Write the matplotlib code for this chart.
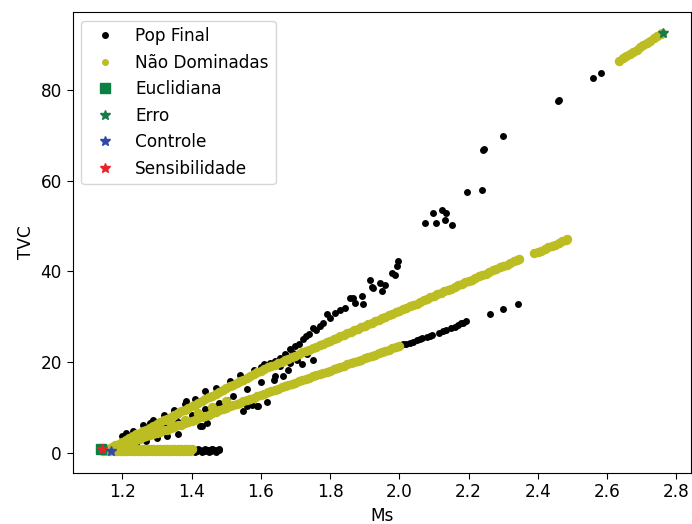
import matplotlib
matplotlib.use("Agg")
import matplotlib.pyplot as plt

# Populacao final (todos os individuos)
pop_ms = [
    1.390, 1.395, 1.400, 1.405, 1.410, 1.415, 1.420, 1.425, 1.430, 1.435,
    1.440, 1.445, 1.450, 1.455, 1.460, 1.465, 1.470, 1.475, 1.480,
    1.400, 1.410, 1.420, 1.430, 1.440, 1.450, 1.460, 1.470, 1.480,
    1.214, 1.229, 1.253, 1.21, 1.28, 1.35, 1.24, 1.27, 1.30, 1.33, 1.36,
    1.20, 1.23, 1.26, 1.29, 1.32, 1.35, 1.38, 1.41, 1.47,
    1.301, 1.358, 1.368, 1.416, 1.425, 1.430, 1.445, 1.474, 1.502, 1.569,
    1.32, 1.36, 1.40, 1.44, 1.48, 1.52, 1.56, 1.60, 1.64, 1.68, 1.72, 1.75,
    1.550, 1.560, 1.574, 1.589, 1.593, 1.618,
    1.385, 1.440, 1.512, 1.541, 1.579, 1.600, 1.610, 1.627, 1.640, 1.656,
    1.670, 1.685, 1.700, 1.710, 1.723, 1.730, 1.740, 1.752, 1.760, 1.770,
    1.780, 1.790, 1.800, 1.814, 1.830, 1.843, 1.857, 1.867, 1.872, 1.891,
    1.896, 1.915, 1.920, 1.925, 1.944, 1.949, 1.960, 1.978, 1.987, 1.992,
    1.997,
    1.637, 1.656, 1.665, 1.675, 1.685, 1.694, 1.704, 1.733,
    2.005, 2.011, 2.020, 2.030, 2.040, 2.050, 2.059, 2.065, 2.080, 2.088,
    2.095, 2.115, 2.126, 2.135, 2.150, 2.160, 2.170, 2.179, 2.185, 2.194,
    2.261, 2.299, 2.342,
    2.073, 2.097, 2.105, 2.123, 2.131, 2.136, 2.153,
    2.195, 2.238, 2.243, 2.246, 2.299, 2.459, 2.462, 2.560, 2.581,
]
pop_tvc = [
    0.5, 0.7, 0.4, 0.6, 0.5, 0.3, 0.6, 0.5, 0.4, 0.6,
    0.3, 0.6, 0.5, 0.4, 0.7, 0.5, 0.4, 0.5, 0.5,
    0.9, 0.2, 0.9, 0.2, 0.9, 0.2, 0.9, 0.2, 0.8,
    3.7, 2.9, 3.7, 4.3, 6.6, 9.2, 2.0, 2.6, 3.2, 3.6, 4.2,
    3.6, 4.8, 6.1, 7.2, 8.4, 9.5, 10.7, 11.9, 14.3,
    6.6, 8.4, 5.9, 8.8, 5.9, 5.9, 6.6, 10.3, 11.7, 11.7,
    5.6, 6.8, 8.3, 9.6, 11.0, 12.6, 14.0, 15.5, 16.9, 18.3, 19.5, 20.5,
    9.2, 10.3, 10.6, 10.3, 10.3, 11.1,
    11.4, 13.6, 15.8, 17.1, 18.3, 19.0, 19.5, 19.8, 20.3, 20.9,
    21.8, 22.8, 23.5, 24.0, 25.0, 25.8, 26.2, 27.5, 27.0, 28.0,
    28.6, 30.5, 29.6, 30.8, 31.5, 31.9, 34.1, 34.1, 33.0, 34.5,
    32.7, 38.2, 36.6, 36.3, 37.4, 35.6, 37.0, 39.6, 39.3, 41.1,
    42.2,
    16.1, 19.1, 16.9, 21.3, 19.8, 22.0, 20.5, 21.7,
    23.7, 23.9, 24.0, 24.2, 24.5, 24.8, 25.1, 25.2, 25.5, 25.7,
    25.9, 26.5, 26.8, 27.0, 27.4, 27.7, 28.1, 28.5, 28.7, 29.0,
    30.5, 31.6, 32.9,
    50.7, 52.9, 50.7, 53.6, 51.4, 52.9, 50.3,
    57.5, 58.0, 66.8, 67.0, 69.9, 77.7, 77.9, 82.6, 83.7,
]

# Nao dominadas - faixa de baixo (TVC perto de zero), duas fileiras
nd_base_ms = [1.140, 1.150, 1.160, 1.170, 1.180, 1.190, 1.200, 1.210, 1.220,
              1.230, 1.240, 1.250, 1.260, 1.270, 1.280, 1.290, 1.300, 1.310,
              1.320, 1.330, 1.340, 1.350, 1.360, 1.370, 1.380, 1.390, 1.400,
              1.145, 1.155, 1.165, 1.175, 1.185, 1.195, 1.205, 1.215, 1.225,
              1.235, 1.245, 1.255, 1.265, 1.275, 1.285, 1.295, 1.305, 1.315,
              1.325, 1.335, 1.345, 1.355, 1.365, 1.375, 1.385, 1.395]
nd_base_tvc = [0.85] * 27 + [0.35] * 26

# Nao dominadas - ramo de baixo
nd_low_ms = [1.16, 1.17, 1.18, 1.19, 1.20, 1.21, 1.22, 1.23, 1.24, 1.25,
             1.26, 1.27, 1.28, 1.29, 1.30, 1.31, 1.32, 1.33, 1.34, 1.35,
             1.36, 1.37, 1.38, 1.39, 1.40, 1.41, 1.42, 1.43, 1.44, 1.45,
             1.46, 1.47, 1.48, 1.49, 1.50, 1.51, 1.52, 1.53, 1.54, 1.55,
             1.56, 1.57, 1.58, 1.59, 1.60, 1.61, 1.62, 1.63, 1.64, 1.65,
             1.66, 1.67, 1.68, 1.69, 1.70, 1.71, 1.72, 1.73, 1.74, 1.75,
             1.76, 1.77, 1.78, 1.79, 1.80, 1.81, 1.82, 1.83, 1.84, 1.85,
             1.86, 1.87, 1.88, 1.89, 1.90, 1.91, 1.92, 1.93, 1.94, 1.95,
             1.96, 1.97, 1.98, 1.99, 2.00]
nd_low_tvc = [0.9, 1.1, 1.3, 1.6, 1.8, 2.1, 2.3, 2.6, 2.8, 3.1,
              3.4, 3.6, 3.9, 4.1, 4.4, 4.6, 4.9, 5.1, 5.4, 5.7,
              6.0, 6.2, 6.5, 6.7, 7.0, 7.3, 7.6, 7.8, 8.1, 8.4,
              8.7, 9.0, 9.3, 9.6, 9.9, 10.2, 10.5, 10.7, 11.0, 11.3,
              11.6, 11.8, 12.1, 12.4, 12.7, 13.0, 13.3, 13.5, 13.8, 14.1,
              14.4, 14.6, 14.9, 15.1, 15.4, 15.7, 16.0, 16.2, 16.5, 16.8,
              17.1, 17.3, 17.6, 17.8, 18.1, 18.4, 18.7, 18.9, 19.2, 19.5,
              19.8, 20.0, 20.3, 20.5, 20.8, 21.1, 21.4, 21.6, 21.9, 22.2,
              22.5, 22.7, 23.0, 23.2, 23.5]

# Nao dominadas - pontos soltos entre os dois ramos
nd_mid_ms = [1.26, 1.30, 1.34, 1.38, 1.42, 1.46, 1.50]
nd_mid_tvc = [3.6, 5.2, 6.3, 7.3, 8.8, 10.0, 11.5]

# Nao dominadas - ramo de cima
nd_up_ms = [1.16, 1.17, 1.18, 1.19, 1.20, 1.21, 1.22, 1.23, 1.24, 1.25,
            1.26, 1.27, 1.28, 1.29, 1.30, 1.31, 1.32, 1.33, 1.34, 1.35,
            1.36, 1.37, 1.38, 1.39, 1.40, 1.41, 1.42, 1.43, 1.44, 1.45,
            1.46, 1.47, 1.48, 1.49, 1.50, 1.51, 1.52, 1.53, 1.54, 1.55,
            1.56, 1.57, 1.58, 1.59, 1.60, 1.61, 1.62, 1.63, 1.64, 1.65,
            1.66, 1.67, 1.68, 1.69, 1.70, 1.71, 1.72, 1.73, 1.74, 1.75,
            1.76, 1.77, 1.78, 1.79, 1.80, 1.81, 1.82, 1.83, 1.84, 1.85,
            1.86, 1.87, 1.88, 1.89, 1.90, 1.91, 1.92, 1.93, 1.94, 1.95,
            1.96, 1.97, 1.98, 1.99, 2.00, 2.01, 2.02, 2.03, 2.04, 2.05,
            2.06, 2.07, 2.08, 2.09, 2.10, 2.11, 2.12, 2.13, 2.14, 2.15,
            2.16, 2.17, 2.18, 2.19, 2.20, 2.21, 2.22, 2.23, 2.24, 2.25,
            2.26, 2.27, 2.28, 2.29, 2.30, 2.31, 2.32, 2.33, 2.34, 2.345,
            2.39, 2.40, 2.41, 2.42, 2.43, 2.44, 2.45, 2.46, 2.47, 2.48,
            2.485]
nd_up_tvc = [0.8, 1.2, 1.6, 2.0, 2.4, 2.8, 3.2, 3.6, 4.0, 4.4,
             4.8, 5.1, 5.5, 5.9, 6.3, 6.7, 7.1, 7.5, 7.9, 8.3,
             8.7, 9.1, 9.5, 9.9, 10.3, 10.6, 11.0, 11.4, 11.8, 12.2,
             12.6, 13.0, 13.4, 13.8, 14.2, 14.6, 15.0, 15.3, 15.7, 16.1,
             16.5, 16.9, 17.3, 17.7, 18.1, 18.4, 18.8, 19.1, 19.4, 19.8,
             20.1, 20.4, 20.7, 21.1, 21.4, 21.7, 22.1, 22.4, 22.7, 23.0,
             23.4, 23.7, 24.0, 24.4, 24.7, 25.0, 25.4, 25.7, 26.0, 26.3,
             26.7, 27.0, 27.3, 27.7, 28.0, 28.3, 28.7, 29.0, 29.3, 29.6,
             30.0, 30.3, 30.6, 31.0, 31.3, 31.6, 32.0, 32.3, 32.6, 32.9,
             33.3, 33.6, 33.9, 34.3, 34.6, 34.9, 35.3, 35.6, 35.9, 36.2,
             36.6, 36.9, 37.2, 37.6, 37.9, 38.2, 38.6, 38.9, 39.2, 39.5,
             39.9, 40.2, 40.5, 40.9, 41.2, 41.5, 41.9, 42.2, 42.5, 42.7,
             44.0, 44.3, 44.6, 45.0, 45.3, 45.6, 45.9, 46.3, 46.6, 46.9,
             47.1]

# Nao dominadas - trecho isolado no alto, ate o ponto de menor erro
nd_top_ms = [2.635, 2.645, 2.655, 2.665, 2.675, 2.685, 2.695, 2.705,
             2.715, 2.725, 2.735, 2.745, 2.755, 2.760]
nd_top_tvc = [86.5, 87.0, 87.5, 87.9, 88.4, 88.9, 89.4, 89.9,
              90.4, 90.9, 91.4, 91.9, 92.3, 92.6]

nd_ms = nd_base_ms + nd_low_ms + nd_mid_ms + nd_up_ms + nd_top_ms
nd_tvc = nd_base_tvc + nd_low_tvc + nd_mid_tvc + nd_up_tvc + nd_top_tvc

# Solucoes escolhidas por cada criterio
euclid = (1.138, 0.9)
erro = (2.762, 92.6)
controle = (1.168, 0.3)
sensib = (1.141, 0.9)

plt.rcParams['font.size'] = 12.2
plt.rcParams['xtick.major.size'] = 4.3
plt.rcParams['ytick.major.size'] = 4.3

fig = plt.figure(figsize=(6.92, 5.24), dpi=100)
ax = fig.add_axes([0.105, 0.098, 0.894, 0.879])

ax.plot(pop_ms, pop_tvc, 'o', color='black', ms=5, mew=0, label='Pop Final')
ax.plot(nd_ms, nd_tvc, 'o', color='#bcbd22', ms=6.8, mew=0, label='Não Dominadas')
ax.plot(euclid[0], euclid[1], 's', color='#0b8043', ms=7.5, label='Euclidiana')
ax.plot(erro[0], erro[1], '*', color='#187b4c', ms=7, label='Erro')
ax.plot(controle[0], controle[1], '*', color='#3049a6', ms=7, label='Controle')
ax.plot(sensib[0], sensib[1], '*', color='#e8232a', ms=7, label='Sensibilidade')

ax.set_xlabel('Ms')
ax.set_ylabel('TVC')
leg = ax.legend(loc='upper left')
# pontos da legenda um pouco menores que os do grafico
leg.legend_handles[1].set_markersize(5)

fig.savefig('out.png', dpi=100)
